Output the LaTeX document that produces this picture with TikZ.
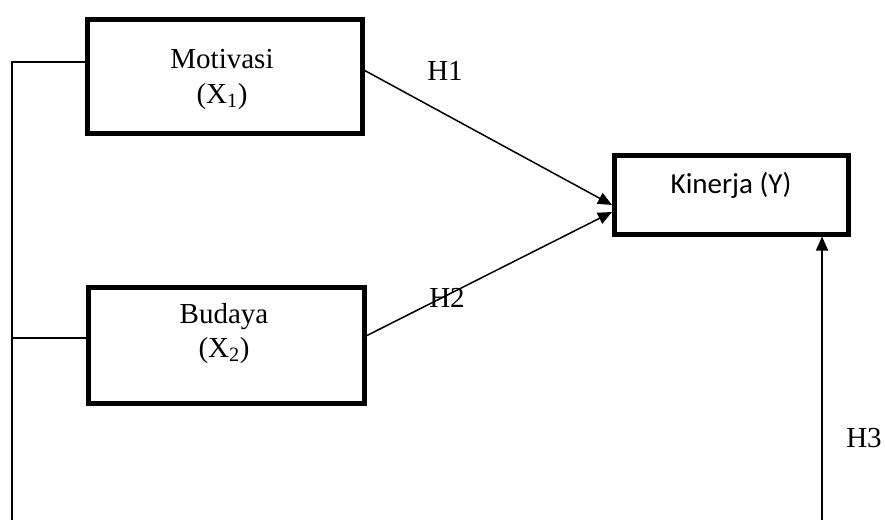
\documentclass[tikz,border=0pt]{standalone}
\usepackage{fontspec}
\setmainfont{Liberation Serif}
\newfontfamily\calib{Carlito}
\usetikzlibrary{arrows.meta}
\begin{document}
\begin{tikzpicture}[x=1pt,y=-1pt,
  box/.style={draw, line width=4.5pt, inner sep=0pt, anchor=north west},
  lbl/.style={font=\fontsize{29}{34}\selectfont, inner sep=0pt, anchor=base},
  conn/.style={line width=1.5pt},
  arr/.style={conn, -{Triangle[length=14pt,width=12pt]}}]
\useasboundingbox (0,0) rectangle (885,520);
% boxes
\node[box, minimum width=275pt, minimum height=114pt] (mot) at (85,17) {};
\node[box, minimum width=276pt, minimum height=116pt] (bud) at (86,285) {};
\node[box, minimum width=234pt, minimum height=79pt] (kin) at (612,153) {};
% texts
\node[lbl] (motT) at (222,68) {Motivasi};
\node[lbl] (motX) at (222,103) {(X\textsubscript{1})};
\node[lbl] (budT) at (224,323) {Budaya};
\node[lbl] (budX) at (224,357) {(X\textsubscript{2})};
\node[lbl, font=\calib\fontsize{29}{34}\selectfont] (kinT) at (731,193) {Kinerja (Y)};
\node[lbl] (h1) at (445,80) {H1};
\node[lbl] (h2) at (447,307) {H2};
\node[lbl] (h3) at (864,447) {H3};
% connectors
\coordinate (lt) at (12,62);
\coordinate (lm) at (12,338);
\coordinate (lb) at (12,520);
\coordinate (r3) at (822,520);
\draw[conn] (mot.west |- lt) -- (lt) -- (lb);
\draw[conn] (lm) -- (89,338);
\draw[arr] (362,69) -- (kin.west |- 0,205);
\draw[arr] (364,337) -- (kin.west |- 0,212);
\draw[arr] (r3) -- (r3 |- kin.south);
\end{tikzpicture}
\end{document}
